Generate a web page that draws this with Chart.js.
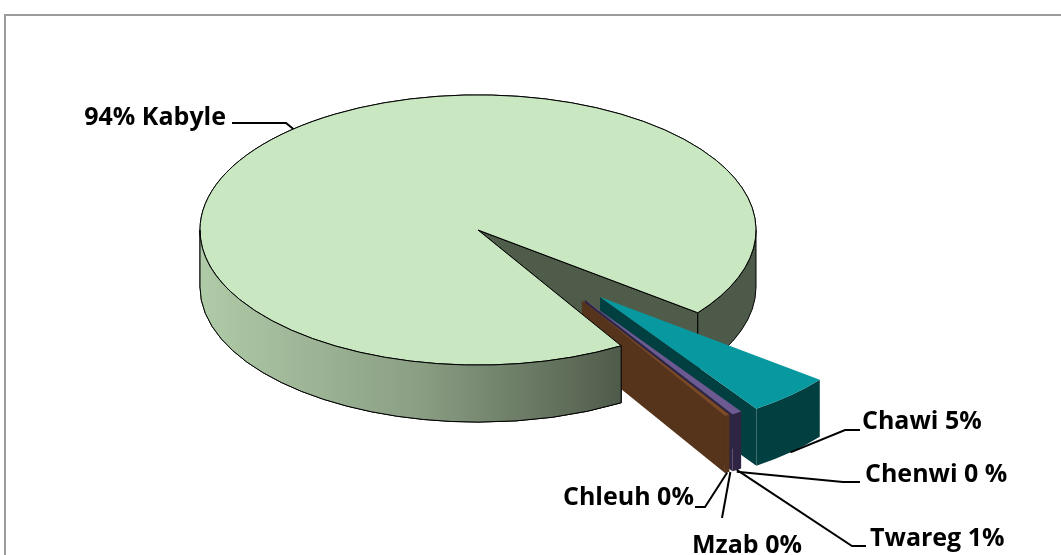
<!DOCTYPE html>
<html>
<head>
<meta charset="utf-8">
<script src="https://cdn.jsdelivr.net/npm/chart.js@4.4.0/dist/chart.umd.min.js"></script>
<style>
    html, body { margin: 0; padding: 0; background: #fff; overflow: hidden; }
    #wrap { position: relative; width: 1061px; height: 555px; }
    #frame { position: absolute; left: 4px; top: 14px; width: 1100px; height: 600px; border: 2px solid #9b9b9b; }
    #pieChart { position: absolute; left: 0; top: 0; }
</style>
</head>
<body>
<div id="wrap">
    <div id="frame"></div>
    <canvas id="pieChart" width="1061" height="555"></canvas>
</div>
<script>
// 데이터
const categories = ['Kabyle', 'Chawi', 'Chenwi', 'Twareg', 'Mzab', 'Chleuh'];
const shares = [94.1, 5.0, 0, 0.6, 0, 0.3];
const labelTexts = ['94% Kabyle', 'Chawi 5%', 'Chenwi 0 %', 'Twareg 1%', 'Mzab 0%', 'Chleuh 0%'];

// 스타일
const topColors = ['#c9e8c2', '#07999f', '#4a7ebb', '#6e5a93', '#be4b48', '#7b4a22'];
const sideColors = ['#4f5c4a', '#023f40', '#2a4a70', '#2f2444', '#6e2b29', '#56341b'];
const explode = [0, 184, 182, 179, 179, 178];
const explodeTurn = [0, 0.03, 0, -0.06, -0.065, -0.072];
const TILT = 0.486;
const DEPTH = 57;
const labelLayout = [
    { x: 226, y: 125, align: 'right', elbow: [[232, 123], [286, 123]] },
    { x: 862, y: 429, align: 'left', elbow: [[860, 430], [845, 430]] },
    { x: 865, y: 482, align: 'left', elbow: [[860, 482], [843, 482]] },
    { x: 870, y: 546, align: 'left', elbow: [[866, 546], [852, 546]] },
    { x: 692, y: 553, align: 'left', elbow: [[722, 518]] },
    { x: 563, y: 505, align: 'left', elbow: [[695, 507], [705, 507]] }
];

function sliceCenter(arc, i) {
    const dir = (arc.startAngle + arc.endAngle) / 2 + explodeTurn[i];
    return [arc.x + Math.cos(dir) * explode[i], arc.y + Math.sin(dir) * explode[i] * TILT];
}

function rimPoint(arc, i, ang, down) {
    const c = sliceCenter(arc, i);
    const r = arc.outerRadius;
    return [c[0] + Math.cos(ang) * r, c[1] + Math.sin(ang) * r * TILT + (down ? DEPTH : 0)];
}

function frontRanges(s, e) {
    const out = [];
    for (let k = -2; k <= 2; k++) {
        const lo = Math.max(s, k * 2 * Math.PI);
        const hi = Math.min(e, k * 2 * Math.PI + Math.PI);
        if (hi > lo) out.push([lo, hi]);
    }
    return out;
}

const pie3d = {
    id: 'pie3d',
    beforeDatasetsDraw(chart) {
        const ctx = chart.ctx;
        const arcs = chart.getDatasetMeta(0).data;

        const grad = ctx.createLinearGradient(200, 0, 625, 0);
        grad.addColorStop(0, '#b0cba8');
        grad.addColorStop(0.52, '#8a9e83');
        grad.addColorStop(1, '#4e5a49');

        function drawFront(arc, i, lo, hi) {
            const c = sliceCenter(arc, i);
            const R = arc.outerRadius;
            ctx.beginPath();
            ctx.ellipse(c[0], c[1], R, R * TILT, 0, lo, hi);
            ctx.ellipse(c[0], c[1] + DEPTH, R, R * TILT, 0, hi, lo, true);
            ctx.closePath();
            ctx.fillStyle = i === 0 ? grad : sideColors[i];
            ctx.fill();
            if (i === 0) ctx.stroke();
        }

        function drawTop(arc, i) {
            const c = sliceCenter(arc, i);
            const R = arc.outerRadius;
            // 윗면 - 라이브러리 arc로 그림
            ctx.save();
            ctx.translate(c[0] - arc.x, c[1]);
            ctx.scale(1, TILT);
            ctx.translate(0, -arc.y);
            arc.draw(ctx);
            ctx.restore();
            if (i === 0) {
                ctx.beginPath();
                ctx.moveTo(c[0], c[1]);
                ctx.ellipse(c[0], c[1], R, R * TILT, 0, arc.startAngle, arc.endAngle);
                ctx.closePath();
                ctx.stroke();
            }
        }

        const order = arcs.map((a, i) => i).sort((a, b) => {
            const ma = (arcs[a].startAngle + arcs[a].endAngle) / 2;
            const mb = (arcs[b].startAngle + arcs[b].endAngle) / 2;
            return Math.sin(ma) - Math.sin(mb);
        });

        ctx.save();
        ctx.lineWidth = 1;
        ctx.strokeStyle = '#000';
        ctx.lineJoin = 'round';
        order.forEach(i => {
            const arc = arcs[i];
            if (arc.endAngle - arc.startAngle <= 0) return;
            const c = sliceCenter(arc, i);

            // 절단면
            const faces = [];
            if (Math.cos(arc.startAngle) < 0) faces.push(arc.startAngle);
            if (Math.cos(arc.endAngle) > 0) faces.push(arc.endAngle);
            faces.forEach(t => {
                const p = rimPoint(arc, i, t, false);
                ctx.beginPath();
                ctx.moveTo(c[0], c[1]);
                ctx.lineTo(p[0], p[1]);
                ctx.lineTo(p[0], p[1] + DEPTH);
                ctx.lineTo(c[0], c[1] + DEPTH);
                ctx.closePath();
                ctx.fillStyle = sideColors[i];
                ctx.fill();
                if (i === 0) ctx.stroke();
            });

            // 바깥 곡면
            frontRanges(arc.startAngle, arc.endAngle).forEach(([lo, hi]) => drawFront(arc, i, lo, hi));
            drawTop(arc, i);
        });

        // 큰 조각의 윗면과 앞면을 다시 그려 작은 조각 안쪽 끝을 가림
        const big = arcs[0];
        drawTop(big, 0);
        drawFront(big, 0, big.startAngle, Math.PI);
        ctx.restore();

        // 레이블과 지시선
        ctx.save();
        ctx.strokeStyle = '#000';
        ctx.lineWidth = 2;
        ctx.fillStyle = '#000';
        ctx.font = 'bold 25px "Open Sans"';
        ctx.textBaseline = 'alphabetic';
        arcs.forEach((arc, i) => {
            const mid = (arc.startAngle + arc.endAngle) / 2;
            const anchor = rimPoint(arc, i, mid, Math.sin(mid) > 0);
            const lay = labelLayout[i];
            ctx.beginPath();
            ctx.moveTo(lay.elbow[0][0], lay.elbow[0][1]);
            lay.elbow.slice(1).forEach(p => ctx.lineTo(p[0], p[1]));
            ctx.lineTo(anchor[0], anchor[1]);
            ctx.stroke();
            ctx.textAlign = lay.align;
            ctx.fillText(labelTexts[i], lay.x, lay.y);
        });
        ctx.restore();
        return false;
    }
};

new Chart(document.getElementById('pieChart'), {
    type: 'pie',
    data: {
        labels: categories,
        datasets: [{
            data: shares,
            backgroundColor: topColors,
            borderWidth: 0
        }]
    },
    options: {
        responsive: false,
        animation: false,
        rotation: 149,
        radius: 278,
        layout: { padding: { left: 0, right: 105, top: 0, bottom: 95 } },
        plugins: {
            legend: { display: false },
            tooltip: { enabled: false }
        }
    },
    plugins: [pie3d]
});
</script>
</body>
</html>
